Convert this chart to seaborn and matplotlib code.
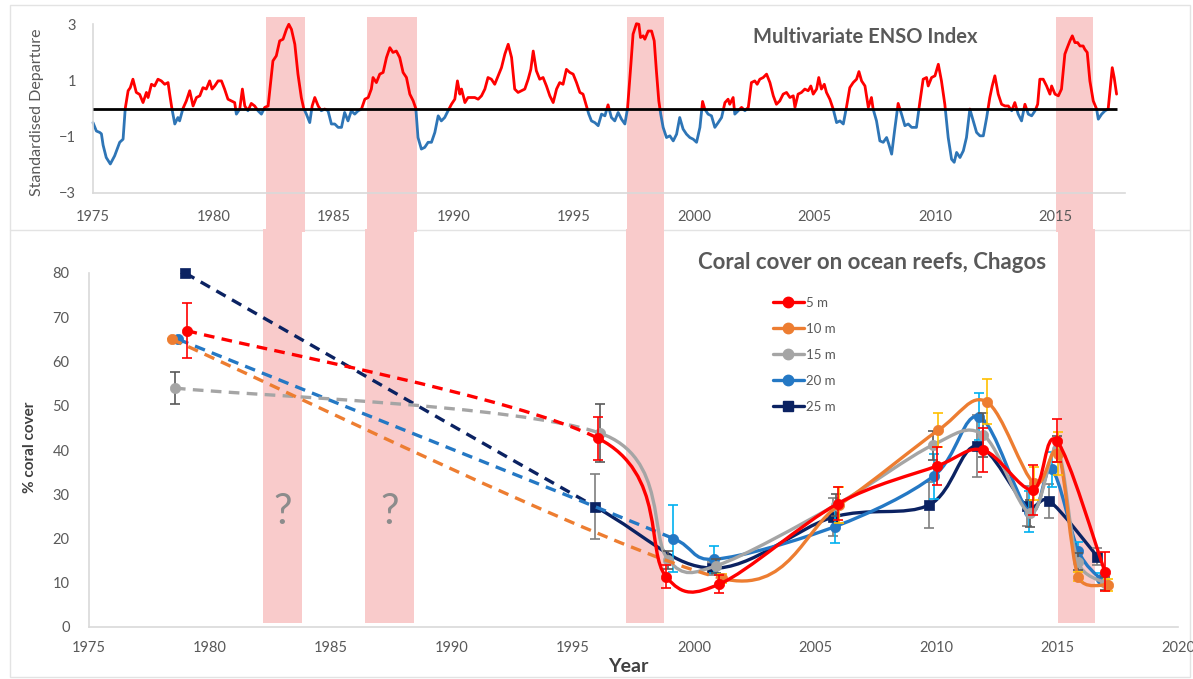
import numpy as np
import matplotlib
matplotlib.use("Agg")
import matplotlib.pyplot as plt
import seaborn as sns
from matplotlib.path import Path
from matplotlib.patches import PathPatch, Rectangle
from matplotlib.lines import Line2D

# ---------------------------------------------------------------- data
# Multivariate ENSO Index (standardised departure), 1975 - 2017
enso_year_a = [
    1975.00, 1975.14, 1975.28, 1975.35, 1975.42, 1975.55, 1975.72, 1975.90, 1976.11, 1976.25,
    1976.34, 1976.46, 1976.55, 1976.66, 1976.80, 1976.94, 1977.08, 1977.22, 1977.29, 1977.43,
    1977.56, 1977.70, 1977.84, 1977.98, 1978.12, 1978.19, 1978.28, 1978.40, 1978.53, 1978.60,
    1978.74, 1978.88, 1979.02, 1979.16, 1979.30, 1979.44, 1979.57, 1979.71, 1979.85, 1979.95,
    1980.06, 1980.20, 1980.34, 1980.47, 1980.61, 1980.75, 1980.89, 1980.96, 1981.10, 1981.21,
    1981.31, 1981.44, 1981.58, 1981.72, 1981.86, 1982.00, 1982.14, 1982.28, 1982.39, 1982.48,
    1982.62, 1982.76, 1982.90, 1983.04, 1983.14, 1983.25, 1983.39, 1983.52, 1983.66, 1983.76,
    1983.87, 1984.01, 1984.11, 1984.22, 1984.36, 1984.49, 1984.63, 1984.77, 1984.91, 1985.05,
    1985.19, 1985.33, 1985.46, 1985.60]
enso_mei_a = [
    -0.50, -0.80, -0.85, -0.90, -1.30, -1.74, -1.97, -1.68, -1.20, -1.09,
    0.00, 0.63, 0.74, 1.04, 0.57, 0.50, 0.21, 0.57, 0.39, 0.86,
    0.80, 1.04, 0.98, 0.86, 0.92, 0.50, 0.00, -0.55, -0.32, -0.44,
    0.00, 0.27, 0.63, 0.09, 0.39, 0.45, 0.74, 0.69, 0.98, 0.69,
    0.80, 0.98, 0.98, 0.69, 0.33, 0.27, 0.21, -0.20, -0.02, 0.69,
    0.09, -0.08, 0.18, 0.09, -0.08, -0.20, 0.04, 0.09, 0.98, 1.69,
    1.87, 2.40, 2.46, 2.81, 2.99, 2.81, 2.28, 1.22, 0.39, 0.00,
    -0.20, -0.50, 0.09, 0.39, 0.09, -0.08, -0.02, -0.08, -0.55, -0.55,
    -0.67, -0.67, -0.14, -0.44]

enso_year_b = [
    1985.74, 1985.88, 1986.02, 1986.16, 1986.30, 1986.44, 1986.57, 1986.64, 1986.78, 1986.92,
    1987.06, 1987.20, 1987.34, 1987.47, 1987.61, 1987.75, 1987.89, 1988.03, 1988.17, 1988.31,
    1988.42, 1988.51, 1988.65, 1988.79, 1988.93, 1989.07, 1989.21, 1989.35, 1989.48, 1989.62,
    1989.76, 1989.90, 1990.04, 1990.15, 1990.25, 1990.32, 1990.46, 1990.59, 1990.73, 1990.87,
    1991.01, 1991.15, 1991.29, 1991.42, 1991.56, 1991.70, 1991.84, 1991.98, 1992.12, 1992.26,
    1992.40, 1992.53, 1992.67, 1992.81, 1992.95, 1993.09, 1993.20, 1993.30, 1993.43, 1993.57,
    1993.71, 1993.85, 1993.99, 1994.13, 1994.27, 1994.40, 1994.54, 1994.68, 1994.82, 1994.96,
    1995.10, 1995.24, 1995.37, 1995.51, 1995.61, 1995.72, 1995.86, 1996.00, 1996.14, 1996.28,
    1996.41]
enso_mei_b = [
    -0.08, -0.20, -0.08, -0.02, 0.33, 0.39, 0.69, 1.10, 0.92, 1.22,
    1.28, 1.81, 2.16, 1.99, 2.04, 1.81, 1.28, 1.10, 0.51, 0.27,
    0.00, -1.03, -1.44, -1.38, -1.20, -1.20, -0.85, -0.26, -0.44, -0.32,
    -0.08, 0.15, 0.33, 0.98, 0.51, 0.69, 0.21, 0.39, 0.39, 0.39,
    0.33, 0.45, 0.69, 1.10, 1.04, 0.86, 1.16, 1.45, 1.93, 2.28,
    1.81, 0.69, 0.57, 0.63, 0.69, 1.04, 1.39, 2.04, 1.34, 1.04,
    1.10, 0.80, 0.45, 0.21, 0.69, 0.92, 0.86, 1.39, 1.28, 1.22,
    0.92, 0.57, 0.51, 0.09, -0.20, -0.44, -0.50, -0.61, -0.20, -0.26,
    0.13]

enso_year_c = [
    1996.55, 1996.69, 1996.83, 1996.97, 1997.11, 1997.22, 1997.36, 1997.45, 1997.59, 1997.69,
    1997.76, 1997.87, 1997.94, 1998.08, 1998.22, 1998.33, 1998.42, 1998.52, 1998.60, 1998.70,
    1998.84, 1998.98, 1999.12, 1999.26, 1999.39, 1999.53, 1999.67, 1999.81, 1999.95, 2000.09,
    2000.23, 2000.34, 2000.43, 2000.57, 2000.71, 2000.85, 2000.99, 2001.13, 2001.27, 2001.40,
    2001.47, 2001.61, 2001.68, 2001.82, 2001.96, 2002.10, 2002.24, 2002.37, 2002.51, 2002.61,
    2002.72, 2002.86, 2003.00, 2003.14, 2003.28, 2003.41, 2003.55, 2003.69, 2003.83, 2003.97,
    2004.11, 2004.18, 2004.31, 2004.45, 2004.59, 2004.73, 2004.84, 2004.94, 2005.08, 2005.17,
    2005.28, 2005.40, 2005.49, 2005.63, 2005.77, 2005.91, 2006.05, 2006.19, 2006.32, 2006.46,
    2006.60, 2006.74, 2006.84, 2006.95, 2007.09]
enso_mei_c = [
    -0.32, -0.44, -0.14, -0.38, -0.55, 0.00, 1.57, 2.64, 3.01, 2.99,
    2.52, 2.58, 2.46, 2.75, 2.75, 2.40, 1.34, 0.27, -0.20, -0.67,
    -1.03, -0.97, -1.15, -0.91, -0.32, -0.73, -0.91, -1.03, -1.09, -1.20,
    -0.67, 0.25, -0.02, -0.20, -0.26, -0.67, -0.50, -0.32, 0.21, 0.33,
    0.15, 0.39, -0.20, -0.08, 0.04, -0.08, 0.04, 0.92, 0.98, 0.86,
    1.04, 1.10, 1.22, 0.92, 0.45, 0.15, 0.27, 0.51, 0.57, 0.39,
    0.45, 0.04, 0.51, 0.57, 0.69, 0.63, 0.80, 0.51, 0.69, 1.10,
    0.69, 0.86, 0.57, 0.33, -0.02, -0.50, -0.44, -0.55, 0.04, 0.74,
    0.92, 1.04, 1.31, 0.98, 0.80]

enso_year_d = [
    2007.23, 2007.36, 2007.43, 2007.57, 2007.71, 2007.85, 2007.99, 2008.08, 2008.20, 2008.33,
    2008.47, 2008.61, 2008.75, 2008.89, 2009.03, 2009.23, 2009.37, 2009.51, 2009.65, 2009.72,
    2009.86, 2010.00, 2010.14, 2010.27, 2010.41, 2010.55, 2010.69, 2010.80, 2010.90, 2011.04,
    2011.18, 2011.31, 2011.45, 2011.59, 2011.73, 2011.87, 2012.01, 2012.15, 2012.28, 2012.38,
    2012.49, 2012.63, 2012.77, 2012.91, 2013.05, 2013.19, 2013.32, 2013.46, 2013.60, 2013.74,
    2013.88, 2014.02, 2014.16, 2014.27, 2014.36, 2014.50, 2014.64, 2014.78, 2014.85, 2014.99,
    2015.13, 2015.26, 2015.40, 2015.50, 2015.61, 2015.71, 2015.82, 2015.93, 2016.03, 2016.16,
    2016.23, 2016.33, 2016.44, 2016.58, 2016.72, 2016.79, 2016.93, 2017.07, 2017.20, 2017.27,
    2017.37, 2017.45, 2017.55]
enso_mei_d = [
    0.04, 0.39, -0.02, -0.44, -1.15, -1.20, -1.03, -1.26, -1.62, -0.73,
    0.18, -0.20, -0.61, -0.55, -0.67, -0.67, 0.21, 1.04, 1.10, 0.80,
    1.10, 1.16, 1.57, 0.98, 0.15, -1.03, -1.80, -1.91, -1.56, -1.74,
    -1.50, -1.03, -0.02, -0.44, -0.85, -0.97, -0.97, -0.32, 0.39, 0.80,
    1.16, 0.51, 0.15, 0.09, 0.09, -0.08, 0.21, -0.20, -0.44, 0.15,
    -0.20, -0.26, -0.08, 0.15, 1.04, 1.04, 0.80, 0.51, 0.80, 0.51,
    0.45, 0.69, 1.93, 2.16, 2.40, 2.58, 2.34, 2.34, 2.22, 2.22,
    2.10, 1.99, 0.98, 0.27, -0.02, -0.38, -0.20, -0.08, -0.02, 0.57,
    1.45, 1.10, 0.51]

# Bleaching / strong El Nino periods
event_start = [1982.2, 1986.4, 1997.2, 2015.05]
event_end = [1983.8, 1988.45, 1998.75, 2016.55]
unsurveyed_events = [0, 1]

# Coral cover (%) on ocean reefs by depth: survey year, mean, error
depth_labels = ["5 m", "10 m", "15 m", "20 m", "25 m"]

cover5_year = [1979.03, 1996.05, 1998.84, 2001.05, 2005.95, 2010.05, 2011.95, 2013.99, 2014.99, 2016.98]
cover5_mean = [67.0, 42.6, 11.4, 9.7, 27.9, 36.4, 40.0, 31.0, 42.1, 12.5]
cover5_err = [6.2, 4.9, 2.6, 2.0, 3.8, 4.3, 4.9, 5.6, 4.8, 4.4]

cover10_year = [1978.42, 2001.14, 2006.00, 2010.10, 2012.09, 2014.05, 2015.05, 2015.88, 2017.12]
cover10_mean = [65.0, 11.0, 27.6, 44.5, 50.9, 32.5, 39.2, 11.4, 9.5]
cover10_err = [0.0, 1.0, 4.0, 3.9, 5.1, 3.7, 4.9, 1.0, 1.3]

cover15_year = [1978.55, 1996.12, 1998.94, 2000.90, 2005.87, 2009.86, 2011.95, 2013.90, 2015.00, 2015.85, 2017.00]
cover15_mean = [54.0, 43.8, 15.1, 13.8, 27.6, 41.1, 43.4, 25.7, 40.2, 14.8, 9.9]
cover15_err = [3.7, 6.5, 2.0, 1.5, 2.5, 3.3, 5.0, 3.0, 3.0, 2.0, 1.5]

cover20_year = [1978.69, 1999.15, 2000.83, 2005.83, 2009.90, 2011.79, 2013.85, 2014.78, 2015.88, 2016.80]
cover20_mean = [65.0, 20.0, 15.3, 22.7, 34.1, 47.5, 26.1, 35.6, 17.2, 10.8]
cover20_err = [0.0, 7.5, 3.0, 3.8, 5.1, 5.3, 4.6, 4.0, 2.0, 1.5]

cover25_year = [1978.97, 1995.91, 2000.73, 2005.73, 2009.72, 2011.68, 2013.75, 2014.68, 2016.67]
cover25_mean = [80.0, 27.2, 13.3, 24.8, 27.6, 40.9, 27.3, 28.5, 15.9]
cover25_err = [0.0, 7.3, 1.5, 4.3, 5.2, 7.0, 4.5, 3.8, 2.0]

# ---------------------------------------------------------------- style
sns.set_style("white")
plt.rcParams["font.family"] = ["Lato", "DejaVu Sans"]
TXT = "#595959"
DARK = "#404040"
GRID = "#D9D9D9"
BAND = "#F9CBCB"

series_color = ["#FF0000", "#ED7D31", "#A5A5A5", "#2478C4", "#0B2262"]
error_color = ["#FF0000", "#FFC000", "#595959", "#00B0F0", "#7F7F7F"]
series_marker = ["o", "o", "o", "o", "s"]

W, H = 1193, 679
fig = plt.figure(figsize=(W / 100, H / 100), dpi=100)


def box(left, top, right, bottom):
    return [left / W, 1 - bottom / H, (right - left) / W, (bottom - top) / H]


ax1 = fig.add_axes(box(93, 24, 1125, 193))
ax2 = fig.add_axes(box(89, 273, 1178, 627))

# panel frames (drawn underneath the axes content)
fig.add_artist(Rectangle((10 / W, 1 - 677 / H), 1180 / W, 672 / H, transform=fig.transFigure,
                         fill=False, edgecolor="#E3E3E3", lw=1.0, zorder=-5))
fig.add_artist(Line2D([10 / W, 1190 / W], [1 - 230 / H] * 2, transform=fig.transFigure,
                      color="#E3E3E3", lw=1.0, zorder=-5))

for ax in (ax1, ax2):
    for side in ("top", "right"):
        ax.spines[side].set_visible(False)
    for side in ("left", "bottom"):
        ax.spines[side].set_color(GRID)
        ax.spines[side].set_linewidth(1.2)
    ax.tick_params(length=0, labelsize=10.5, labelcolor=TXT)
    ax.set_facecolor("none")

# ---------------------------------------------------------------- ENSO panel
enso_year = np.array(enso_year_a + enso_year_b + enso_year_c + enso_year_d)
enso_mei = np.array(enso_mei_a + enso_mei_b + enso_mei_c + enso_mei_d)

ax1.set_xlim(1975, 2017.9)
ax1.set_ylim(-3, 3)
ax1.set_xticks(range(1975, 2016, 5))
ax1.set_yticks([-3, -1, 1, 3])
ax1.tick_params(axis="x", pad=12)
ax1.tick_params(axis="y", pad=12)

for a, b in zip(event_start, event_end):
    ax1.axvspan(a, b, ymin=-0.23, ymax=1.04, color=BAND, lw=0, zorder=0, clip_on=False)

for color, lower in (("#FF0000", 0), ("#2E75B6", -10)):
    sns.lineplot(x=enso_year, y=enso_mei, ax=ax1, color=color, lw=2.0,
                 estimator=None, sort=False, zorder=2)
    ln = ax1.lines[-1]
    ln.set_clip_path(Rectangle((1970, lower), 60, 10, transform=ax1.transData))

ax1.hlines(0, enso_year[0], enso_year[-1], color="black", lw=2.0, zorder=3)

fig.text(865 / W, 1 - 37 / H, "Multivariate ENSO Index", ha="center", va="center",
         fontsize=14.5, fontweight="bold", color=TXT)
fig.text(37 / W, 1 - 112 / H, "Standardised Departure", rotation=90, ha="center",
         va="center", fontsize=11.5, color=TXT)

# ---------------------------------------------------------------- coral panel
ax2.set_xlim(1975, 2020)
ax2.set_ylim(0, 80)
ax2.set_xticks(range(1975, 2021, 5))
ax2.set_yticks(range(0, 81, 10))
ax2.tick_params(axis="x", pad=10)
ax2.tick_params(axis="y", pad=14)

for a, b in zip(event_start, event_end):
    ax2.axvspan(a, b, ymin=0.011, ymax=1.125, color=BAND, lw=0, zorder=0, clip_on=False)
for i in unsurveyed_events:
    ax2.text((event_start[i] + event_end[i]) / 2, 26, "?", ha="center", va="center",
             fontsize=30, color="#8C8C8C", zorder=1)


def smooth_segments(ax, xs, ys):
    """Cubic Bezier segments through the points; tangents follow the neighbouring
    points, with each control arm limited to half of its own segment (screen space)."""
    to_px = ax.transData
    p = to_px.transform(np.column_stack([xs, ys]).astype(float))
    n = len(p)
    segs = []
    for i in range(n - 1):
        p0 = p[i - 1] if i > 0 else p[i]
        p1, p2 = p[i], p[i + 1]
        p3 = p[i + 2] if i + 2 < n else p[i + 1]
        half = np.linalg.norm(p2 - p1) / 2
        t1 = (p2 - p0) / 6
        t2 = (p3 - p1) / 6
        for t in (t1, t2):
            L = np.linalg.norm(t)
            if L > half:
                t *= half / L
        segs.append(to_px.inverted().transform(np.array([p1, p1 + t1, p2 - t2, p2])))
    return segs


def bezier_path(segs):
    verts = [segs[0][0]]
    codes = [Path.MOVETO]
    for s in segs:
        verts += [s[1], s[2], s[3]]
        codes += [Path.CURVE4] * 3
    return Path(verts, codes)


years = [cover5_year, cover10_year, cover15_year, cover20_year, cover25_year]
means = [cover5_mean, cover10_mean, cover15_mean, cover20_mean, cover25_mean]
errs = [cover5_err, cover10_err, cover15_err, cover20_err, cover25_err]

for k in [4, 3, 2, 1, 0]:
    x, y, e = years[k], means[k], errs[k]
    col = series_color[k]
    z = 3 + (4 - k) * 0.5
    segs = smooth_segments(ax2, x, y)
    # the gap between the first survey and the next is drawn dashed
    ax2.add_patch(PathPatch(bezier_path(segs[:1]), facecolor="none", edgecolor=col,
                            lw=2.4, linestyle=(0, (3.2, 2.2)), zorder=z))
    ax2.add_patch(PathPatch(bezier_path(segs[1:]), facecolor="none", edgecolor=col,
                            lw=2.4, zorder=z, capstyle="round", joinstyle="round"))
    ax2.errorbar(x, y, yerr=e, fmt="none", ecolor=error_color[k], elinewidth=1.2,
                 capsize=3.5, capthick=1.2, zorder=z)
    sns.scatterplot(x=x, y=y, ax=ax2, color=col, marker=series_marker[k],
                    s=55 if series_marker[k] == "o" else 60, edgecolor=col,
                    linewidth=0.5, zorder=z + 0.1, legend=False, clip_on=False)

handles = [Line2D([], [], color=series_color[k], lw=2.4, marker=series_marker[k],
                  markersize=7.5, markeredgecolor=series_color[k]) for k in range(5)]
fig.legend(handles, depth_labels, loc="upper left", bbox_to_anchor=(766 / W, 1 - 290 / H),
           frameon=False, fontsize=9.5, handlelength=2.4, handletextpad=0.15,
           labelspacing=1.07, labelcolor=TXT, borderpad=0)

fig.text(872 / W, 1 - 263 / H, "Coral cover on ocean reefs, Chagos", ha="center",
         va="center", fontsize=16, fontweight="bold", color=TXT)
fig.text(30 / W, 1 - 447 / H, "% coral cover", rotation=90, ha="center", va="center",
         fontsize=11, fontweight="bold", color=DARK)
fig.text(628 / W, 1 - 667 / H, "Year", ha="center", va="center", fontsize=14,
         fontweight="bold", color=DARK)

fig.savefig("out.png", dpi=100, facecolor="white")
